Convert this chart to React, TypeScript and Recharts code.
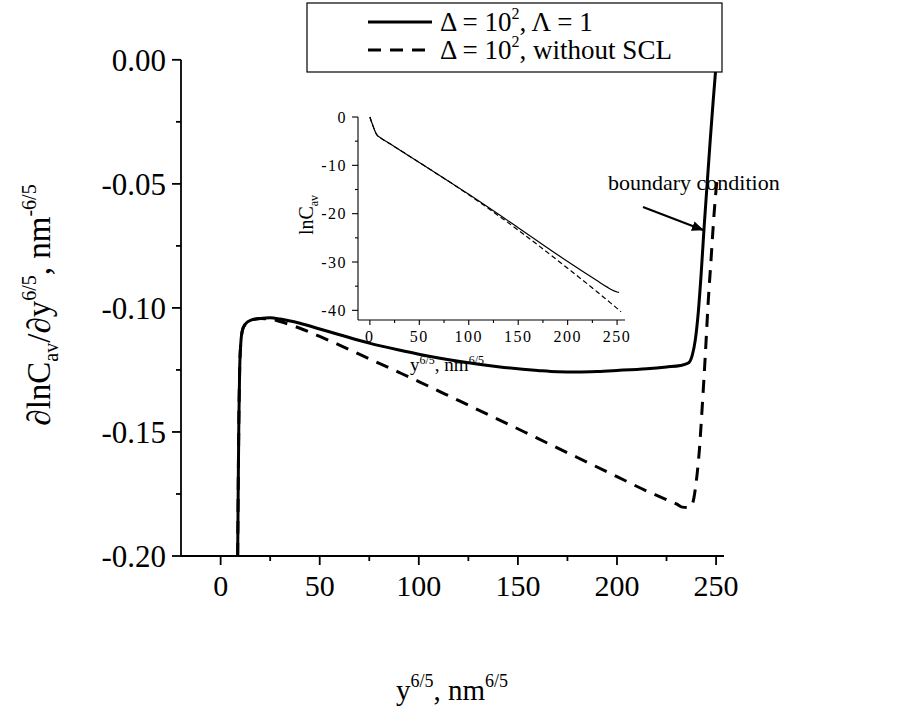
import { LineChart, Line, XAxis, YAxis, ReferenceLine } from "recharts";

const FONT = "'Liberation Serif', 'Times New Roman', serif";

// main panel: d lnC_av / d y^(6/5)
const solidX = [8.6, 8.9, 9.2, 9.6, 10.2, 11, 12.5, 15, 20, 25, 30, 40, 50, 60, 75, 90, 100, 120, 140, 160, 170, 180, 190, 200, 215, 225, 232, 236, 238, 239.5, 241, 242.5, 244, 245.5, 247, 248.5, 250, 251];
const solidY = [-0.2, -0.17, -0.145, -0.125, -0.114, -0.109, -0.1065, -0.105, -0.1043, -0.104, -0.1045, -0.1062, -0.1085, -0.1108, -0.1142, -0.117, -0.1187, -0.1215, -0.1237, -0.1252, -0.1257, -0.1258, -0.1256, -0.1252, -0.1245, -0.1238, -0.1232, -0.1222, -0.119, -0.113, -0.102, -0.086, -0.067, -0.05, -0.033, -0.017, -0.002, 0.008];

const noSclX = [8.6, 8.9, 9.2, 9.6, 10.2, 11, 12.5, 15, 20, 25, 30, 40, 50, 60, 75, 90, 100, 120, 140, 160, 180, 200, 215, 225, 230, 233, 236, 238, 240, 241.5, 243, 244.5, 246, 247.5, 249, 250.5];
const noSclY = [-0.2, -0.17, -0.145, -0.125, -0.114, -0.109, -0.1065, -0.105, -0.1043, -0.1045, -0.1055, -0.1082, -0.1115, -0.115, -0.1205, -0.126, -0.1297, -0.1373, -0.1449, -0.1526, -0.1603, -0.168, -0.1738, -0.1773, -0.179, -0.1803, -0.1805, -0.179, -0.17, -0.158, -0.14, -0.12, -0.098, -0.08, -0.062, -0.048];

// inset: lnC_av
const insetSolidX = [0, 2, 4, 6, 7.5, 10, 20, 50, 100, 150, 200, 230, 240, 245, 250, 252];
const insetSolidY = [0, -1.2, -2.3, -3.3, -3.8, -4.2, -5.5, -9.4, -16.0, -22.9, -29.9, -33.9, -35.2, -35.8, -36.2, -36.3];
const insetNoSclX = [0, 2, 4, 6, 7.5, 10, 20, 50, 100, 150, 200, 230, 240, 250, 254];
const insetNoSclY = [0, -1.2, -2.3, -3.3, -3.8, -4.2, -5.5, -9.4, -16.1, -23.4, -31.3, -36.2, -37.9, -39.6, -40.3];

const mainXTicks = [0, 25, 50, 75, 100, 125, 150, 175, 200, 225, 250];
const mainXLabels = [0, 50, 100, 150, 200, 250];
const mainYTicks = [-0.2, -0.175, -0.15, -0.125, -0.1, -0.075, -0.05, -0.025, 0];
const mainYLabels = [-0.2, -0.15, -0.1, -0.05, 0];
const insetXTicks = [0, 25, 50, 75, 100, 125, 150, 175, 200, 225, 250];
const insetXLabels = [0, 50, 100, 150, 200, 250];
const insetYTicks = [-40, -35, -30, -25, -20, -15, -10, -5, 0];
const insetYLabels = [-40, -30, -20, -10, 0];

const zip = (xs: number[], ys: number[]) => xs.map((x, i) => ({ x, y: ys[i] }));

type TickOpts = {
  side: "left" | "bottom";
  labels: number[];
  fmt: (v: number) => string;
  major: number;
  minor: number;
  offset: number;
  fontSize: number;
  stroke: number;
  spacing?: number;
};

// Origin-style ticks: outward, longer on labelled values
function makeTick(o: TickOpts) {
  return (props: any) => {
    const { x, y, payload } = props;
    const v = payload.value;
    const isMajor = o.labels.some((l) => Math.abs(l - v) < 1e-9);
    const len = isMajor ? o.major : o.minor;
    if (o.side === "left") {
      return (
        <g>
          <line x1={x} y1={y} x2={x - len} y2={y} stroke="#000" strokeWidth={o.stroke} />
          {isMajor && (
            <text x={x - o.offset} y={y} dy="0.35em" textAnchor="end" fontSize={o.fontSize} fontFamily={FONT} letterSpacing={o.spacing ?? 0} fill="#000">
              {o.fmt(v)}
            </text>
          )}
        </g>
      );
    }
    return (
      <g>
        <line x1={x} y1={y} x2={x} y2={y + len} stroke="#000" strokeWidth={o.stroke} />
        {isMajor && (
          <text x={x} y={y + o.offset} dy="0.35em" textAnchor="middle" fontSize={o.fontSize} fontFamily={FONT} letterSpacing={o.spacing ?? 0} fill="#000">
            {o.fmt(v)}
          </text>
        )}
      </g>
    );
  };
}

export default function App() {
  const main = { top: 35, right: 178, bottom: 111, left: 81 };
  const inset = { top: 117, right: 277, bottom: 367, left: 298 };
  return (
    <div style={{ position: "absolute", left: 0, top: 0, width: 902, height: 727, background: "#fff" }}>
      <div style={{ position: "absolute", left: 0, top: 0 }}>
        <LineChart width={902} height={727} margin={main}>
          <XAxis
            type="number"
            dataKey="x"
            domain={[-20, 254]}
            ticks={mainXTicks}
            interval={0}
            tickSize={0}
            tickMargin={0}
            tickLine={false}
            axisLine={{ stroke: "#000", strokeWidth: 1.8 }}
            height={60}
            tick={makeTick({ side: "bottom", labels: mainXLabels, fmt: (v) => String(v), major: 9, minor: 5, offset: 29, fontSize: 30, stroke: 1.8 })}
          />
          <YAxis
            type="number"
            domain={[-0.2, 0.01]}
            ticks={mainYTicks}
            interval={0}
            tickSize={0}
            tickMargin={0}
            tickLine={false}
            axisLine={false}
            width={100}
            tick={makeTick({ side: "left", labels: mainYLabels, fmt: (v) => v.toFixed(2), major: 9, minor: 5, offset: 15, fontSize: 31, stroke: 1.8 })}
          />
          <ReferenceLine segment={[{ x: -20, y: -0.2 }, { x: -20, y: 0 }]} stroke="#000" strokeWidth={1.8} />
          <Line data={zip(noSclX, noSclY)} dataKey="y" type="monotone" stroke="#000" strokeWidth={3} strokeDasharray="13 9" dot={false} isAnimationActive={false} />
          <Line data={zip(solidX, solidY)} dataKey="y" type="monotone" stroke="#000" strokeWidth={3} dot={false} isAnimationActive={false} />
        </LineChart>
      </div>

      <div style={{ position: "absolute", left: 0, top: 0 }}>
        <LineChart width={902} height={727} margin={inset}>
          <XAxis
            type="number"
            dataKey="x"
            domain={[-12, 258]}
            ticks={insetXTicks}
            interval={0}
            tickSize={0}
            tickMargin={0}
            tickLine={false}
            axisLine={{ stroke: "#000", strokeWidth: 1.1 }}
            height={40}
            tick={makeTick({ side: "bottom", labels: insetXLabels, fmt: (v) => String(v), major: 5, minor: 3, offset: 16, fontSize: 16, stroke: 1.1, spacing: 1.5 })}
          />
          <YAxis
            type="number"
            domain={[-42, 0]}
            ticks={insetYTicks}
            interval={0}
            tickSize={0}
            tickMargin={0}
            tickLine={false}
            axisLine={{ stroke: "#000", strokeWidth: 1.1 }}
            width={60}
            tick={makeTick({ side: "left", labels: insetYLabels, fmt: (v) => String(v), major: 6, minor: 3, offset: 11, fontSize: 16, stroke: 1.1, spacing: 1.5 })}
          />
          <Line data={zip(insetNoSclX, insetNoSclY)} dataKey="y" type="monotone" stroke="#000" strokeWidth={1.2} strokeDasharray="5 3" dot={false} isAnimationActive={false} />
          <Line data={zip(insetSolidX, insetSolidY)} dataKey="y" type="monotone" stroke="#000" strokeWidth={1.2} dot={false} isAnimationActive={false} />
        </LineChart>
      </div>

      <svg width={902} height={727} style={{ position: "absolute", left: 0, top: 0, pointerEvents: "none" }} fontFamily={FONT}>
        <defs>
          <marker id="head" markerWidth="12" markerHeight="10" refX="11" refY="5" orient="auto" markerUnits="userSpaceOnUse">
            <path d="M0,0 L12,5 L0,10 z" fill="#000" />
          </marker>
        </defs>
        {/* legend */}
        <rect x={307} y={3} width={415} height={69} fill="#fff" stroke="#000" strokeWidth={1.2} />
        <line x1={368} y1={22} x2={432} y2={22} stroke="#000" strokeWidth={3} />
        <text x={440} y={31} fontSize={27}>
          Δ = 10<tspan dy={-12} fontSize={16}>2</tspan>
          <tspan dy={12}>, Λ = 1</tspan>
        </text>
        <line x1={368} y1={50} x2={432} y2={50} stroke="#000" strokeWidth={3} strokeDasharray="13 9" />
        <text x={440} y={59} fontSize={27}>
          Δ = 10<tspan dy={-12} fontSize={16}>2</tspan>
          <tspan dy={12}>, without SCL</tspan>
        </text>

        {/* main axis titles */}
        <text x={452} y={700} fontSize={29} textAnchor="middle">
          y<tspan dy={-13} fontSize={18}>6/5</tspan>
          <tspan dy={13}>, nm</tspan>
          <tspan dy={-13} fontSize={18}>6/5</tspan>
        </text>
        <text transform="translate(50,305) rotate(-90)" fontSize={33} textAnchor="middle">
          ∂lnC<tspan dy={8} fontSize={20}>av</tspan>
          <tspan dy={-8}>/∂y</tspan>
          <tspan dy={-14} fontSize={20}>6/5</tspan>
          <tspan dy={14}>, nm</tspan>
          <tspan dy={-14} fontSize={20}>-6/5</tspan>
        </text>

        {/* inset axis titles */}
        <text x={447} y={371} fontSize={19} textAnchor="middle">
          y<tspan dy={-7} fontSize={12}>6/5</tspan>
          <tspan dy={7}>, nm</tspan>
          <tspan dy={-7} fontSize={12}>6/5</tspan>
        </text>
        <text transform="translate(313,215) rotate(-90)" fontSize={20} textAnchor="middle">
          lnC<tspan dy={5} fontSize={12}>av</tspan>
        </text>

        {/* annotation */}
        <text x={608} y={190} fontSize={22}>boundary condition</text>
        <line x1={643} y1={207} x2={703} y2={230} stroke="#000" strokeWidth={2} markerEnd="url(#head)" />
      </svg>
    </div>
  );
}
